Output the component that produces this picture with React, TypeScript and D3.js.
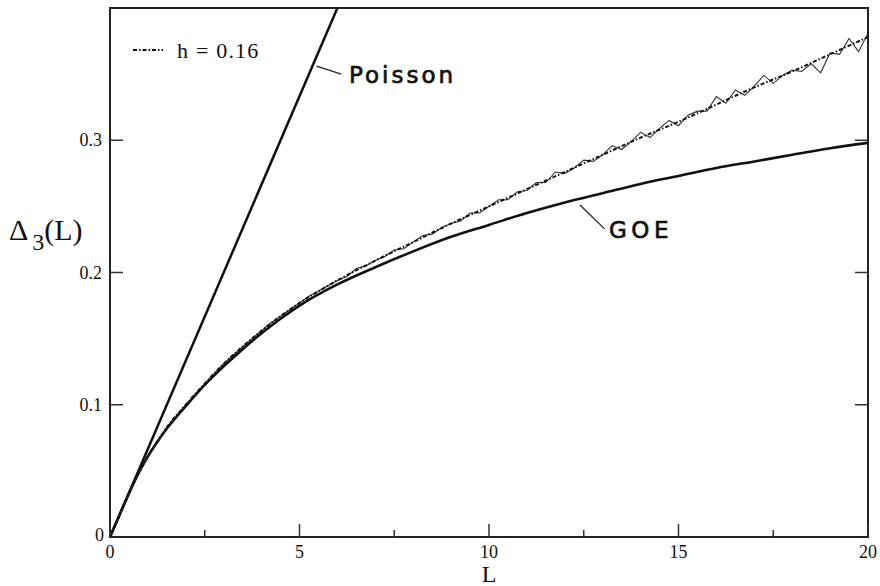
import { scaleLinear, line as d3Line, curveMonotoneX } from "d3";

// chart size and plot margins
const W = 880;
const H = 586;
const MARGINS = { top: 8, right: 12, bottom: 49, left: 110 };

// x axis ticks
const xMajorTicks = [0, 5, 10, 15, 20];
const xMinorTicks = [2.5, 7.5, 12.5, 17.5];
const yTicks = [0.1, 0.2, 0.3];
const yTickLabels = ["0.1", "0.2", "0.3"];

// Poisson straight line
const poissonL = [0, 6];
const poissonD = [0, 0.4];

// smooth curves sampled at these L values
const smoothL = [0, 0.25, 0.5, 0.75, 1, 1.25, 1.5, 2, 2.5, 3, 3.5, 4, 4.5, 5, 6, 7, 8, 9, 10, 11, 12, 13, 14, 15, 16, 17, 18, 19, 20];
const goeD = [0, 0.0165, 0.033, 0.048, 0.061, 0.072, 0.082, 0.099, 0.115, 0.129, 0.142, 0.154, 0.165, 0.175, 0.191, 0.204, 0.216, 0.227, 0.236, 0.245, 0.253, 0.26, 0.267, 0.273, 0.279, 0.284, 0.289, 0.294, 0.298];
const h016D = [0, 0.0165, 0.033, 0.048, 0.061, 0.072, 0.083, 0.1, 0.116, 0.131, 0.144, 0.156, 0.167, 0.177, 0.194, 0.209, 0.223, 0.237, 0.25, 0.263, 0.276, 0.289, 0.302, 0.314, 0.327, 0.34, 0.352, 0.365, 0.378];

// raw (wiggly) curve
const rawL = [0, 0.5, 1, 1.5, 2, 2.5, 3, 3.5,
  4, 4.25, 4.5, 4.75, 5, 5.25, 5.5, 5.75, 6, 6.25, 6.5, 6.75, 7, 7.25, 7.5, 7.75,
  8, 8.25, 8.5, 8.75, 9, 9.25, 9.5, 9.75, 10, 10.25, 10.5, 10.75, 11, 11.25, 11.5, 11.75,
  12, 12.25, 12.5, 12.75, 13, 13.25, 13.5, 13.75, 14, 14.25, 14.5, 14.75, 15, 15.25, 15.5, 15.75,
  16, 16.25, 16.5, 16.75, 17, 17.25, 17.5, 17.75, 18, 18.25, 18.5, 18.75, 19, 19.25, 19.5, 19.75, 20];
const rawD = [0, 0.033, 0.061, 0.083, 0.1, 0.116, 0.131, 0.144,
  0.156, 0.162, 0.167, 0.172, 0.177, 0.182, 0.186, 0.19, 0.194, 0.197, 0.203, 0.205, 0.209, 0.212, 0.217, 0.218,
  0.223, 0.228, 0.229, 0.234, 0.237, 0.239, 0.245, 0.245, 0.25, 0.255, 0.255, 0.261, 0.262, 0.268, 0.268, 0.276,
  0.275, 0.279, 0.285, 0.284, 0.289, 0.296, 0.293, 0.299, 0.306, 0.302, 0.309, 0.315, 0.311, 0.319, 0.322, 0.322,
  0.333, 0.328, 0.338, 0.334, 0.341, 0.349, 0.343, 0.349, 0.353, 0.352, 0.358, 0.351, 0.366, 0.365, 0.377, 0.367, 0.381];

const serif = "'Liberation Serif', 'DejaVu Serif', serif";
const sans = "'DejaVu Sans', 'Liberation Sans', sans-serif";

const App = () => {
  const x = scaleLinear().domain([0, 20]).range([MARGINS.left, W - MARGINS.right]);
  const y = scaleLinear().domain([0, 0.4]).range([H - MARGINS.bottom, MARGINS.top]);

  const toPts = (ls: number[], ds: number[]) => ls.map((l, i) => [l, ds[i]] as [number, number]);

  const straight = d3Line<[number, number]>()
    .x((p) => x(p[0]))
    .y((p) => y(p[1]));
  const smooth = d3Line<[number, number]>()
    .x((p) => x(p[0]))
    .y((p) => y(p[1]))
    .curve(curveMonotoneX);

  const x0 = x(0);
  const x1 = x(20);
  const yb = y(0);
  const yt = y(0.4);

  return (
    <div style={{ position: "absolute", left: 0, top: 0 }}>
      <svg width={W} height={H} style={{ display: "block", background: "#fff" }}>
        <defs>
          <clipPath id="plot-clip">
            <rect x={x0} y={yt} width={x1 - x0} height={yb - yt} />
          </clipPath>
        </defs>

        <g clipPath="url(#plot-clip)">
          {/* Poisson */}
          <path d={straight(toPts(poissonL, poissonD)) || ""} fill="none" stroke="#111" strokeWidth={2.5} />
          {/* GOE */}
          <path d={smooth(toPts(smoothL, goeD)) || ""} fill="none" stroke="#111" strokeWidth={2.6} />
          {/* raw data, thin */}
          <path d={straight(toPts(rawL, rawD)) || ""} fill="none" stroke="#333" strokeWidth={1.1} />
          {/* h = 0.16 dash-dot */}
          <path
            d={smooth(toPts(smoothL, h016D)) || ""}
            fill="none"
            stroke="#111"
            strokeWidth={2}
            strokeDasharray="4,2,1.5,2"
          />
        </g>

        {/* frame */}
        <rect x={x0} y={yt} width={x1 - x0} height={yb - yt} fill="none" stroke="#222" strokeWidth={2} />

        {/* x ticks */}
        {xMajorTicks.map((t) => (
          <g key={`xm${t}`}>
            <line x1={x(t)} x2={x(t)} y1={yb} y2={yb - 13} stroke="#333" strokeWidth={1.5} />
            <text x={x(t)} y={yb + 21} textAnchor="middle" fontFamily={serif} fontSize={18} fill="#111">
              {t}
            </text>
          </g>
        ))}
        {xMinorTicks.map((t) => (
          <line key={`xn${t}`} x1={x(t)} x2={x(t)} y1={yb} y2={yb - 7} stroke="#333" strokeWidth={1.5} />
        ))}

        {/* y ticks, both sides */}
        {yTicks.map((t, i) => (
          <g key={`y${t}`}>
            <line x1={x0} x2={x0 + 13} y1={y(t)} y2={y(t)} stroke="#333" strokeWidth={1.5} />
            <line x1={x1} x2={x1 - 13} y1={y(t)} y2={y(t)} stroke="#333" strokeWidth={1.5} />
            <text x={x0 - 8} y={y(t) + 6} textAnchor="end" fontFamily={serif} fontSize={18} fill="#111">
              {yTickLabels[i]}
            </text>
          </g>
        ))}
        <text x={x0 - 6} y={yb + 4} textAnchor="end" fontFamily={serif} fontSize={18} fill="#111">
          0
        </text>

        {/* axis titles */}
        <text x={x(10)} y={582} textAnchor="middle" fontFamily={serif} fontSize={24} fill="#111">
          L
        </text>
        <text x={9} y={240} fontFamily={serif} fontSize={30} fill="#111">
          Δ
          <tspan dx={4} dy={10} fontSize={24}>3</tspan>
          <tspan dy={-10}>(L)</tspan>
        </text>

        {/* legend */}
        <line x1={133} x2={163} y1={50} y2={50} stroke="#111" strokeWidth={2} strokeDasharray="4,2,1.5,2" />
        <text x={177} y={58} fontFamily={serif} fontSize={22} letterSpacing={1.2} fill="#111">
          h = 0.16
        </text>

        {/* annotations */}
        <line x1={x(5.45)} y1={y(0.356)} x2={x(6.1)} y2={y(0.35)} stroke="#222" strokeWidth={1.3} />
        <text
          x={349}
          y={83}
          fontFamily={sans}
          fontSize={23}
          letterSpacing={3}
          fill="#111"
          stroke="#111"
          strokeWidth={0.7}
        >
          Poisson
        </text>
        <line x1={x(12.4)} y1={y(0.251)} x2={x(13.05)} y2={y(0.233)} stroke="#222" strokeWidth={1.3} />
        <text
          x={609}
          y={238}
          fontFamily={sans}
          fontSize={23}
          letterSpacing={4.5}
          fill="#111"
          stroke="#111"
          strokeWidth={0.7}
        >
          GOE
        </text>
      </svg>
    </div>
  );
};

export default App;
